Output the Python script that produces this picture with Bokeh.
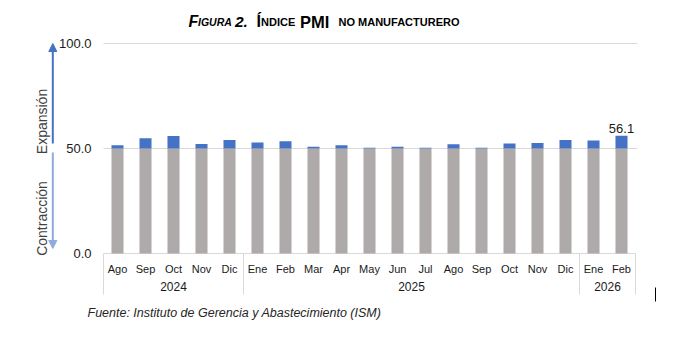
from math import pi
from bokeh.plotting import figure
from bokeh.models import Range1d, Arrow, NormalHead, ColumnDataSource
from bokeh.core.properties import value
from bokeh.embed import file_html
from bokeh.resources import INLINE

# ---------------- data ----------------
years = ["2024"] * 5 + ["2025"] * 12 + ["2026"] * 2
months = ["Ago", "Sep", "Oct", "Nov", "Dic",
          "Ene", "Feb", "Mar", "Apr", "May", "Jun", "Jul", "Ago", "Sep", "Oct", "Nov", "Dic",
          "Ene", "Feb"]
pmi = [51.5, 54.9, 56.0, 52.1, 54.1,
       52.8, 53.5, 50.8, 51.6, 50.3, 50.8, 50.3, 52.0, 50.4, 52.4, 52.6, 54.0,
       53.8, 56.1]
threshold = 50.0
y_ticks = [0, 50, 100]
title_parts = [("F", "bold italic", 16), ("IGURA", "bold italic", 10.5), ("2.", "bold italic", 15.5),
               ("Í", "bold", 16), ("NDICE", "bold", 11), ("PMI", "bold", 16.5),
               ("NO MANUFACTURERO", "bold", 11)]
source_note = "Fuente: Instituto de Gerencia y Abastecimiento (ISM)"
up_text, down_text = "Expansión", "Contracción"

FONT = value("Liberation Sans")
GRAY = "#AEAAAA"
BLUE = "#4472C4"
LIGHT_BLUE = "#8FAADC"
LINE = "#D9D9D9"
TXT = "#1a1a1a"

W, H = 681, 338
# plot-area geometry in pixels (decoration layout only)
FL, FR, FT, FB = 103, 635, 43, 253
n = len(months)
XU = (FR - FL) / n
YU = (FB - FT) / (y_ticks[-1] - y_ticks[0])


def dx(px):
    return (px - FL) / XU


def dy(py):
    return (FB - py) / YU


xc = [i + 0.5 for i in range(n)]
src = ColumnDataSource(dict(
    x=xc,
    month=months,
    pmi=pmi,
    gray_top=[min(v, threshold) for v in pmi],
    blue_bot=[threshold] * n,
    blue_top=[max(v, threshold) for v in pmi],
))

p = figure(width=W, height=H, x_range=Range1d(dx(0), dx(W)), y_range=Range1d(dy(H), dy(0)),
           x_axis_type=None, y_axis_type=None, min_border=0,
           output_backend="svg", toolbar_location=None,
           background_fill_color="white", border_fill_color="white")
p.outline_line_color = None

# gridlines and axis line
grid_ticks = [t for t in y_ticks if t > 0]
p.segment(x0=[0] * len(grid_ticks), x1=[dx(637)] * len(grid_ticks), y0=grid_ticks, y1=grid_ticks,
          line_color=LINE, line_width=1)
p.segment(x0=[0], x1=[n], y0=[0], y1=[0], line_color=LINE, line_width=1)

# bars
p.vbar(x="x", top="gray_top", bottom=0, width=0.43, source=src,
       fill_color=GRAY, line_color=None)
p.vbar(x="x", top="blue_top", bottom="blue_bot", width=0.43, source=src,
       fill_color=BLUE, line_color=None)

# last value label
p.text(x=[xc[-1]], y=[pmi[-1]], text=[f"{pmi[-1]:.1f}"],
       text_align="center", text_baseline="bottom", y_offset=-3,
       text_font=FONT, text_font_size="13px", text_color=TXT)

# y tick labels
p.text(x=[dx(91)] * len(y_ticks), y=y_ticks, text=[f"{t:.1f}" for t in y_ticks],
       text_align="right", text_baseline="middle",
       text_font=FONT, text_font_size="13px", text_color=TXT)

# month labels
p.text(x="x", y=dy(268), text="month", source=src, text_align="center",
       text_baseline="middle", text_font=FONT, text_font_size="11px", text_color=TXT)

# year labels and group separators
bounds = [0] + [i for i in range(1, n) if years[i] != years[i - 1]] + [n]
groups = [years[b] for b in bounds[:-1]]
gx = [(a + b) / 2 for a, b in zip(bounds[:-1], bounds[1:])]
p.text(x=gx, y=[dy(286)] * len(gx), text=groups, text_align="center",
       text_baseline="middle", text_font=FONT, text_font_size="12px", text_color=TXT)
p.segment(x0=bounds, x1=bounds, y0=[0] * len(bounds), y1=[dy(294)] * len(bounds),
          line_color=LINE, line_width=1)

# expansion / contraction arrows
ax_x = dx(52.3)
p.add_layout(Arrow(x_start=ax_x, y_start=dy(143), x_end=ax_x, y_end=y_ticks[-1],
                   line_color=BLUE, line_width=2,
                   end=NormalHead(size=8, fill_color=BLUE, line_color=BLUE)))
p.add_layout(Arrow(x_start=ax_x, y_start=dy(152), x_end=ax_x, y_end=dy(248),
                   line_color=LIGHT_BLUE, line_width=2,
                   end=NormalHead(size=8, fill_color=LIGHT_BLUE, line_color=LIGHT_BLUE)))
p.text(x=[dx(41)] * 2, y=[dy(121), dy(218)], text=[up_text, down_text], angle=pi / 2,
       text_align="center", text_baseline="middle",
       text_font=FONT, text_font_size="14px", text_color="#404040")

# title (small caps emulation)
title_x = [188, 197.5, 234.5, 256, 260.5, 299.5, 338]
for (txt, style, size), px in zip(title_parts, title_x):
    p.text(x=[dx(px)], y=[dy(21)], text=[txt], text_align="left",
           text_baseline="alphabetic", text_font=FONT,
           text_font_style=style, text_font_size=f"{size}px", text_color="black")

# source note
p.text(x=[dx(87)], y=[dy(312)], text=[source_note], text_align="left",
       text_baseline="middle", text_font=FONT, text_font_style="italic",
       text_font_size="12.5px", text_color="#262626")

# cursor mark
p.segment(x0=[dx(655)], x1=[dx(655)], y0=[dy(287)], y1=[dy(301)],
          line_color="black", line_width=1)

open("out.html", "w").write(file_html(p, INLINE))
